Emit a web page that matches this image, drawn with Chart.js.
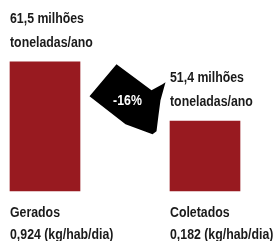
<!DOCTYPE html>
<html>
<head>
<meta charset="utf-8">
<script src="https://cdn.jsdelivr.net/npm/chart.js@4"></script>
<style>
  body { margin: 0; background: #fff; }
  canvas { display: block; }
</style>
</head>
<body>
<canvas id="chart" width="275" height="241"></canvas>
<script>
// chart data
const categories = ['Gerados', 'Coletados'];
const values = [61.5, 51.4];
const topLine1 = ['61,5 milhões', '51,4 milhões'];
const topLine2 = ['toneladas/ano', 'toneladas/ano'];
const perCapita = ['0,924 (kg/hab/dia)', '0,182 (kg/hab/dia)'];
const changeLabel = '-16%';

const yMin = 39.5;
const yMax = 70;
const barColor = '#981a20';
const textFont = 'bold 14px "Liberation Sans", Arial, sans-serif';
const squeeze = 0.88;

// condensed text: squeeze horizontally
function narrowText(ctx, text, x, y) {
    ctx.save();
    ctx.translate(x, y);
    ctx.scale(squeeze, 1);
    ctx.fillText(text, 0, 0);
    ctx.restore();
}

// draws labels and the black arrow between bars
const labelPlugin = {
    id: 'labels',
    afterDatasetsDraw(chart) {
        const ctx = chart.ctx;
        const bars = chart.getDatasetMeta(0).data;
        const area = chart.chartArea;
        ctx.save();

        // arrow shape, anchored between the two bars
        const right1 = bars[0].x + bars[0].width / 2;
        const left2 = bars[1].x - bars[1].width / 2;
        const ax = (right1 + left2) / 2 + 2.5;
        const ay = bars[1].y - 21;
        const shape = [[-11, -36], [24, -10], [35, -16], [38, -18], [33, 0], [31, 15],
                       [29, 31], [25, 34], [-2, 24], [-38, -4]];
        ctx.fillStyle = '#000';
        ctx.beginPath();
        shape.forEach((p, i) => {
            if (i === 0) ctx.moveTo(ax + p[0], ay + p[1]);
            else ctx.lineTo(ax + p[0], ay + p[1]);
        });
        ctx.closePath();
        ctx.fill();

        ctx.font = textFont;
        ctx.textBaseline = 'middle';
        ctx.textAlign = 'center';
        ctx.fillStyle = '#fff';
        narrowText(ctx, changeLabel, ax, ay + 1);

        ctx.fillStyle = '#1a1a1a';
        ctx.textAlign = 'left';
        bars.forEach((bar, i) => {
            const x = bar.x - bar.width / 2;
            narrowText(ctx, topLine1[i], x, bar.y - 43);
            narrowText(ctx, topLine2[i], x, bar.y - 19);
            narrowText(ctx, categories[i], x, area.bottom + 22);
            narrowText(ctx, perCapita[i], x, area.bottom + 44);
        });
        ctx.restore();
    }
};

const ctx = document.getElementById('chart').getContext('2d');
const chart = new Chart(ctx, {
    type: 'bar',
    data: {
        labels: categories,
        datasets: [{
            data: values,
            base: yMin,
            backgroundColor: barColor,
            borderWidth: 0,
            barThickness: 70,
            clip: false
        }]
    },
    options: {
        responsive: false,
        animation: false,
        layout: {
            padding: { left: 45, right: 70, top: 12, bottom: 50 }
        },
        plugins: {
            legend: { display: false },
            tooltip: { enabled: false }
        },
        scales: {
            x: { display: false, offset: false },
            y: { display: false, min: yMin, max: yMax }
        }
    },
    plugins: [labelPlugin]
});
</script>
</body>
</html>
